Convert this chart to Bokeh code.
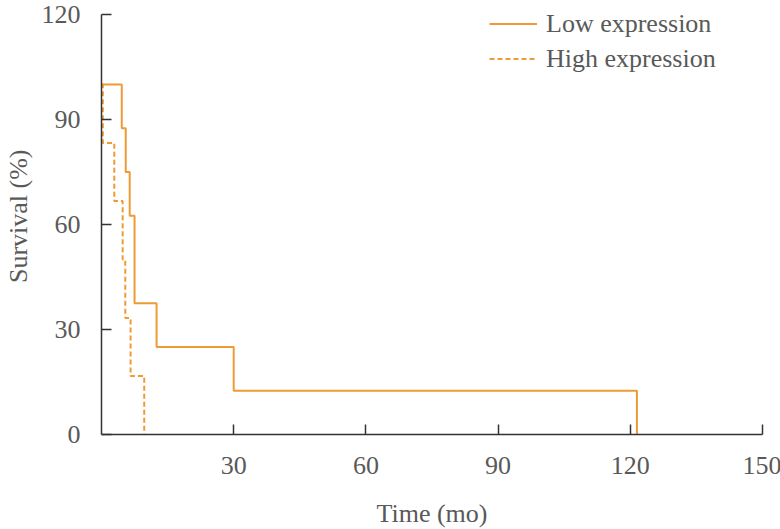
from bokeh.plotting import figure
from bokeh.models import FixedTicker, Legend, LegendItem, Range1d, Title
from bokeh.embed import file_html
from bokeh.resources import INLINE

# Kaplan-Meier steps (time in months, survival in %)
low_time = [0, 4.6, 5.5, 6.4, 7.5, 12.5, 30.0, 121.5]
low_surv = [100, 87.5, 75.0, 62.5, 37.5, 25.0, 12.5, 0]
high_time = [0, 0.3, 2.9, 4.8, 5.4, 6.6, 9.7]
high_surv = [100, 83.3, 66.7, 50.0, 33.3, 16.7, 0]

x_ticks = [30, 60, 90, 120, 150]
y_ticks = [0, 30, 60, 90, 120]
series_names = ["Low expression", "High expression"]
x_title = "Time (mo)"
y_title = "Survival (%)"

ORANGE = "#EE9A35"
TEXT = "#595959"
AXIS = "#333333"
FONT = "Liberation Serif"
FS = "26px"

p = figure(frame_width=661, frame_height=420,
           min_border_left=100, min_border_right=19,
           min_border_top=14, min_border_bottom=95,
           x_range=Range1d(0, 150), y_range=Range1d(0, 120),
           output_backend="svg", toolbar_location=None)
p.outline_line_color = None
p.xgrid.visible = False
p.ygrid.visible = False
p.background_fill_color = "white"
p.border_fill_color = "white"

for ax in (p.xaxis[0], p.yaxis[0]):
    ax.major_tick_in = 10
    ax.major_tick_out = 0
    ax.minor_tick_in = 0
    ax.minor_tick_out = 0
    ax.axis_line_color = AXIS
    ax.axis_line_width = 1.5
    ax.major_tick_line_color = AXIS
    ax.major_tick_line_width = 1.5
    ax.major_label_text_font = FONT
    ax.major_label_text_font_size = FS
    ax.major_label_text_color = TEXT

p.xaxis.ticker = FixedTicker(ticks=x_ticks)
p.yaxis.ticker = FixedTicker(ticks=y_ticks)
p.xaxis.major_label_standoff = 22
p.yaxis.major_label_standoff = 21

p.xaxis.axis_label = x_title
p.xaxis.axis_label_standoff = 22
p.xaxis.axis_label_text_font = FONT
p.xaxis.axis_label_text_font_size = FS
p.xaxis.axis_label_text_font_style = "normal"
p.xaxis.axis_label_text_color = TEXT

p.add_layout(Title(text=y_title, align="right", offset=135, standoff=7,
                   vertical_align="top",
                   text_font=FONT, text_font_size=FS, text_font_style="normal",
                   text_color=TEXT), "left")

r_low = p.step(low_time, low_surv, mode="after", line_color=ORANGE, line_width=2)
r_high = p.step(high_time, high_surv, mode="after", line_color=ORANGE,
                line_width=2, line_dash="5 3")

legend = Legend(items=[LegendItem(label=series_names[0], renderers=[r_low]),
                       LegendItem(label=series_names[1], renderers=[r_high])],
                location=(388, 358), orientation="vertical",
                glyph_width=48, glyph_height=35, label_height=35,
                label_standoff=9, spacing=0, padding=0, margin=0,
                border_line_color=None, background_fill_alpha=0,
                label_text_font=FONT, label_text_font_size=FS,
                label_text_color=TEXT)
p.add_layout(legend)

open("out.html", "w").write(file_html(p, INLINE))
